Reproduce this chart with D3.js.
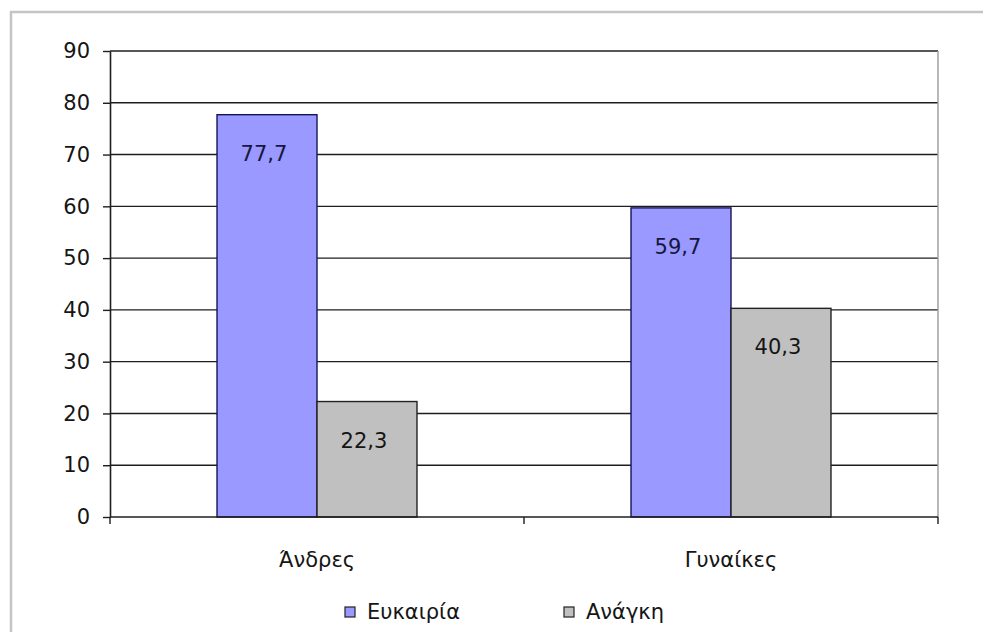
<!DOCTYPE html>
<html><head><meta charset="utf-8">
<script src="https://cdn.jsdelivr.net/npm/d3@7"></script>
<style>
html,body{margin:0;padding:0;background:#fff;}
svg{display:block;font-family:"DejaVu Sans",Verdana,sans-serif;}
</style></head>
<body>
<svg id="chart" width="983" height="632"></svg>
<script>
const categories = ["Άνδρες", "Γυναίκες"];
const seriesNames = ["Ευκαιρία", "Ανάγκη"];
const eukairia = [77.7, 59.7];
const anagki = [22.3, 40.3];
const yTicks = [0, 10, 20, 30, 40, 50, 60, 70, 80, 90];
const colors = ["#9999ff", "#c0c0c0"];

(function () {
const svg = d3.select("#chart");
const FS = 21;
// outer chart border
svg.append("rect").attr("x", 11).attr("y", 12).attr("width", 990).attr("height", 640)
  .attr("fill", "#fff").attr("stroke", "#c4c4c4").attr("stroke-width", 2.5);

const pLeft = 110, pRight = 938, pTop = 51, pBottom = 517;
const x0 = d3.scaleBand().domain(categories).range([pLeft, pRight]).paddingInner(0.517).paddingOuter(0.2585);
const x1 = d3.scaleBand().domain(seriesNames).range([0, x0.bandwidth()]);
const y = d3.scaleLinear().domain([0, 90]).range([pBottom, pTop]);

// gridlines
svg.append("g").selectAll("line").data(yTicks.filter(d => d > 0)).join("line")
  .attr("x1", pLeft).attr("x2", pRight).attr("y1", d => y(d)).attr("y2", d => y(d))
  .attr("stroke", "#1e1e1e").attr("stroke-width", 1.4);
// right border of plot
svg.append("line").attr("x1", pRight).attr("x2", pRight).attr("y1", pTop).attr("y2", pBottom)
  .attr("stroke", "#9a9a9a").attr("stroke-width", 1.4);

const data = categories.map((c, i) => ({cat: c, vals: [
  {s: seriesNames[0], v: eukairia[i]}, {s: seriesNames[1], v: anagki[i]}]}));

const groups = svg.append("g").selectAll("g").data(data).join("g")
  .attr("transform", d => `translate(${x0(d.cat)},0)`);
groups.selectAll("rect").data(d => d.vals).join("rect")
  .attr("x", d => x1(d.s)).attr("width", x1.bandwidth())
  .attr("y", d => y(d.v)).attr("height", d => y(0) - y(d.v))
  .attr("fill", (d, i) => colors[i])
  .attr("stroke", (d, i) => i === 0 ? "#14145a" : "#222").attr("stroke-width", 1.4);
groups.selectAll("text").data(d => d.vals).join("text")
  .attr("x", d => x1(d.s) + x1.bandwidth() / 2 - 3)
  .attr("y", d => y(d.v) + 39)
  .attr("text-anchor", "middle").attr("dominant-baseline", "central")
  .attr("font-size", FS).attr("fill", (d, i) => i === 0 ? "#16163e" : "#151515")
  .text(d => String(d.v).replace(".", ","));

// y axis
const yAxis = d3.axisLeft(y).tickValues(yTicks).tickSize(7).tickPadding(13).tickSizeOuter(0);
const gy = svg.append("g").attr("transform", `translate(${pLeft},0)`).call(yAxis);
gy.select(".domain").attr("stroke", "#1e1e1e").attr("stroke-width", 1.6);
gy.selectAll(".tick line").attr("stroke", "#1e1e1e").attr("stroke-width", 1.4);
gy.selectAll(".tick text").attr("font-size", FS).attr("fill", "#151515").attr("font-family", "DejaVu Sans");

// x axis
const gx = svg.append("g").attr("transform", `translate(0,${pBottom})`);
gx.append("line").attr("x1", pLeft).attr("x2", pRight).attr("stroke", "#1e1e1e").attr("stroke-width", 1.6);
const xTickPos = [pLeft, (x0(categories[0]) + x0.bandwidth() + x0(categories[1])) / 2, pRight];
gx.selectAll(".xt").data(xTickPos).join("line").attr("class", "xt")
  .attr("x1", d => d).attr("x2", d => d).attr("y1", 0).attr("y2", 7)
  .attr("stroke", "#1e1e1e").attr("stroke-width", 1.4);
gx.selectAll("text").data(categories).join("text")
  .attr("x", d => x0(d) + x0.bandwidth() / 2).attr("y", 43)
  .attr("text-anchor", "middle").attr("dominant-baseline", "central")
  .attr("font-size", FS).attr("fill", "#151515").text(d => d);

// legend
const legendX = [345, 564];
const lg = svg.append("g").selectAll("g").data(seriesNames).join("g")
  .attr("transform", (d, i) => `translate(${legendX[i]},607)`);
lg.append("rect").attr("width", 10).attr("height", 10)
  .attr("fill", (d, i) => colors[i]).attr("stroke", "#222").attr("stroke-width", 1.2);
lg.append("text").attr("x", 22).attr("y", 5).attr("dominant-baseline", "central")
  .attr("font-size", FS).attr("fill", "#151515").text(d => d);
})();
</script>
</body></html>
